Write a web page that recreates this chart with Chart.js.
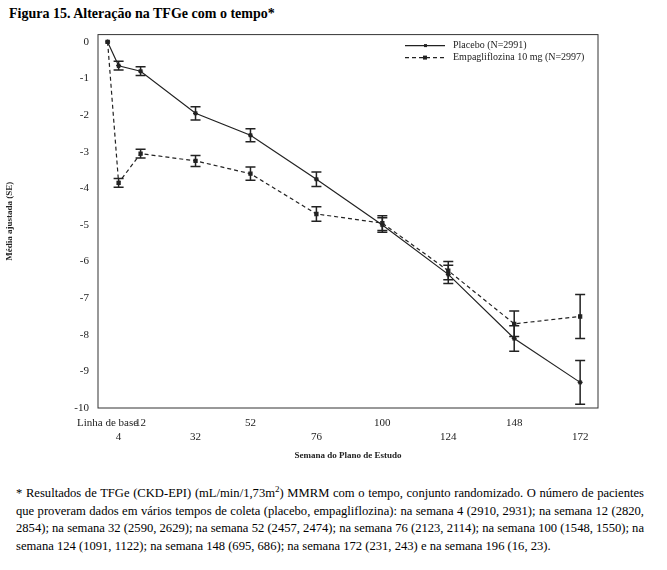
<!DOCTYPE html>
<html><head><meta charset="utf-8">
<script src="https://cdn.jsdelivr.net/npm/chart.js@4"></script>
<style>
body{margin:0;background:#fff;font-family:"Liberation Serif","Times New Roman",serif;width:667px;height:570px;position:relative;overflow:hidden}
#title{position:absolute;left:9px;top:6px;font-weight:bold;font-size:14px}
#wrap{position:absolute;left:0;top:25px;width:667px;height:440px}
#note{position:absolute;left:16px;top:481px;width:628px;font-size:12.6px;line-height:17.5px;text-align:justify;font-family:"Liberation Serif",serif}
</style></head><body>
<div id="title">Figura 15. Alteração na TFGe com o tempo*</div>
<div id="wrap"><canvas id="c"></canvas></div>
<div id="note">* Resultados de TFGe (CKD-EPI) (mL/min/1,73m<sup style="font-size:9px">2</sup>) MMRM com o tempo, conjunto randomizado. O número de pacientes que proveram dados em vários tempos de coleta (placebo, empagliflozina): na semana 4 (2910, 2931); na semana 12 (2820, 2854); na semana 32 (2590, 2629); na semana 52 (2457, 2474); na semana 76 (2123, 2114); na semana 100 (1548, 1550); na semana 124 (1091, 1122); na semana 148 (695, 686); na semana 172 (231, 243) e na semana 196 (16, 23).</div>
<script>
// semanas e médias ajustadas (SE)
const weeks = [0, 4, 12, 32, 52, 76, 100, 124, 148, 172];
const placebo = [0, -0.65, -0.8, -1.95, -2.55, -3.75, -5.0, -6.35, -8.1, -9.3];
const placebo_se = [0, 0.12, 0.12, 0.18, 0.18, 0.2, 0.2, 0.25, 0.35, 0.6];
const empa = [0, -3.85, -3.05, -3.25, -3.6, -4.7, -4.95, -6.25, -7.7, -7.5];
const empa_se = [0, 0.12, 0.12, 0.15, 0.18, 0.2, 0.2, 0.25, 0.35, 0.6];

const errorBars = {
  id: "errorBars",
  afterDatasetsDraw(chart) {
    const ctx = chart.ctx, x = chart.scales.x, y = chart.scales.y;
    const ses = [placebo_se, empa_se];
    chart.data.datasets.forEach((ds, d) => {
      ds.data.forEach((p, i) => {
        if (!ses[d][i]) return;
        const px = x.getPixelForValue(p.x);
        const top = y.getPixelForValue(p.y + ses[d][i]);
        const bot = y.getPixelForValue(p.y - ses[d][i]);
        ctx.save();
        ctx.strokeStyle = "#222";
        ctx.lineWidth = 1.5;
        ctx.beginPath();
        ctx.moveTo(px, top); ctx.lineTo(px, bot);
        ctx.moveTo(px - 5, top); ctx.lineTo(px + 5, top);
        ctx.moveTo(px - 5, bot); ctx.lineTo(px + 5, bot);
        ctx.stroke();
        ctx.restore();
      });
    });
  },
  afterDraw(chart) {
    const a = chart.chartArea, ctx = chart.ctx;
    ctx.save();
    ctx.strokeStyle = "#333";
    ctx.lineWidth = 1;
    ctx.strokeRect(a.left, a.top, a.right - a.left, a.bottom - a.top);
    // legenda
    const lx = a.right - 193, ly = a.top + 11;
    ctx.strokeStyle = "#222";
    ctx.fillStyle = "#222";
    ctx.lineWidth = 1.2;
    ctx.beginPath(); ctx.moveTo(lx, ly); ctx.lineTo(lx + 40, ly); ctx.stroke();
    ctx.fillRect(lx + 19, ly - 1.5, 3, 3);
    ctx.setLineDash([4, 3]);
    ctx.beginPath(); ctx.moveTo(lx, ly + 12); ctx.lineTo(lx + 40, ly + 12); ctx.stroke();
    ctx.setLineDash([]);
    ctx.fillRect(lx + 18, ly + 10, 4, 4);
    ctx.font = "10px 'Liberation Serif'";
    ctx.textBaseline = "middle";
    ctx.fillText("Placebo (N=2991)", lx + 48, ly);
    ctx.fillText("Empagliflozina 10 mg (N=2997)", lx + 48, ly + 12);
    ctx.restore();
  },
};

const top_labels = { 12: "12", 52: "52", 100: "100", 148: "148" };
const low_labels = { 4: "4", 32: "32", 76: "76", 124: "124", 172: "172" };

new Chart(document.getElementById("c"), {
  type: "line",
  data: {
    datasets: [
      {
        label: "Placebo (N=2991)",
        data: weeks.map((w, i) => ({ x: w, y: placebo[i] })),
        borderColor: "#222",
        backgroundColor: "#222",
        borderWidth: 1.2,
        pointStyle: "star",
        pointRadius: 2.5,
      },
      {
        label: "Empagliflozina 10 mg (N=2997)",
        data: weeks.map((w, i) => ({ x: w, y: empa[i] })),
        borderColor: "#222",
        backgroundColor: "#222",
        borderWidth: 1.2,
        borderDash: [4, 3],
        pointStyle: "rect",
        pointRadius: 2.2,
      },
    ],
  },
  options: {
    animation: false,
    responsive: true,
    maintainAspectRatio: false,
    layout: { padding: { top: 8, right: 69 } },
    plugins: {
      legend: { display: false },
      tooltip: { enabled: false },
    },
    scales: {
      x: {
        type: "linear",
        min: -3.5,
        max: 178.5,
        afterBuildTicks: (s) => { s.ticks = weeks.map((v) => ({ value: v })); },
        afterFit: (s) => { s.height = 57; },
        grid: { display: false, drawTicks: true, tickLength: 6, tickColor: "#333" },
        border: { display: false },
        ticks: {
          autoSkip: false,
          maxRotation: 0,
          color: "#222",
          font: { family: "Liberation Serif", size: 11 },
          callback: (v) => {
            if (v === 0) return "Linha de base";
            if (top_labels[v]) return [top_labels[v], ""];
            return ["", low_labels[v]];
          },
        },
        title: {
          display: true,
          text: "Semana do Plano de Estudo",
          font: { family: "Liberation Serif", size: 9, weight: "bold" },
          color: "#222",
          padding: { top: 6 },
        },
      },
      y: {
        min: -10,
        max: 0.2,
        afterBuildTicks: (s) => {
          s.ticks = [0, -1, -2, -3, -4, -5, -6, -7, -8, -9, -10].map((v) => ({ value: v }));
        },
        afterFit: (s) => { s.width = 98; },
        grid: { display: false, drawTicks: true, tickLength: 6, tickColor: "#333" },
        border: { display: false },
        ticks: { color: "#222", font: { family: "Liberation Serif", size: 11 } },
        title: {
          display: true,
          text: "Média ajustada (SE)",
          font: { family: "Liberation Serif", size: 9, weight: "bold" },
          color: "#222",
          padding: { bottom: 30 },
        },
      },
    },
  },
  plugins: [errorBars],
});
</script>
</body></html>
